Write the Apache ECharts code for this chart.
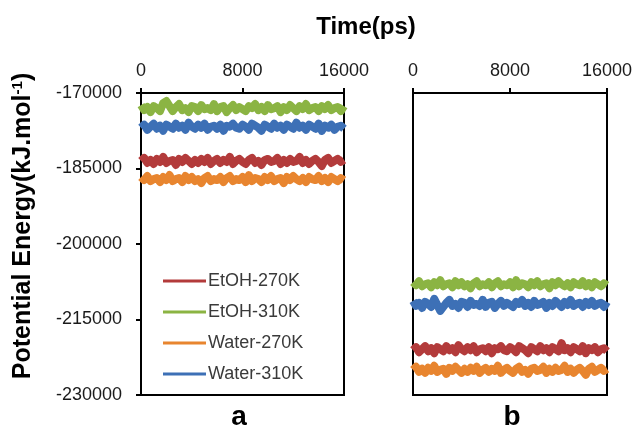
<!DOCTYPE html>
<html>
<head>
<meta charset="utf-8">
<script src="https://cdn.jsdelivr.net/npm/echarts@6/dist/echarts.min.js"></script>
<style>
  html, body { margin: 0; padding: 0; background: #fff; }
  #chart { width: 636px; height: 432px; }
</style>
</head>
<body>
<div id="chart"></div>
<script>
// Sampling grid of the trajectories (ps)
const timePs = Array.from({ length: 65 }, (_, i) => i * 250);

const seriesNames = ['EtOH-270K', 'EtOH-310K', 'Water-270K', 'Water-310K'];
const seriesColors = ['#B33B3B', '#8BB443', '#E8852F', '#3D70B6'];

const xTicks = [0, 8000, 16000];
const yTicks = [-230000, -215000, -200000, -185000, -170000];

// Panel a: potential energy (kJ/mol)
const etoh270A = [
  -183500,-182900,-183900,-183300,-184100,-183100,-183700,-182700,-183900,-183500,
  -183300,-184300,-183100,-183700,-182900,-183500,-184100,-183300,-183900,-183100,
  -183700,-182900,-184100,-183500,-183100,-183900,-183300,-183700,-182700,-184100,
  -183500,-183100,-183700,-184100,-183300,-182900,-183900,-183500,-184300,-183300,
  -183100,-183700,-183500,-182900,-184100,-183300,-183900,-183100,-183700,-183500,
  -182700,-183900,-183300,-184100,-183500,-183100,-183700,-184500,-183300,-182900,
  -183900,-183500,-183100,-183700,-183300
];
const etoh310A = [
  -172400,-173400,-172800,-173800,-172600,-173000,-173600,-172000,-171600,-172600,
  -173600,-172800,-172200,-173400,-173000,-173800,-172600,-172800,-173600,-172400,
  -173200,-173000,-173400,-172200,-173600,-172800,-172600,-173800,-173000,-172400,
  -173400,-172800,-173200,-173600,-172600,-173000,-172200,-173400,-172800,-173600,
  -172400,-173200,-173000,-172600,-173800,-172800,-173400,-172400,-173000,-173600,
  -172600,-173200,-172200,-173400,-173000,-172800,-173600,-172600,-173200,-172400,
  -173400,-173000,-172800,-173600,-172600
];
const water270A = [
  -186700,-187300,-186500,-187500,-187100,-186900,-187700,-186700,-187300,-186300,
  -187500,-187100,-186900,-187700,-186500,-187300,-186700,-187500,-187100,-187900,
  -186900,-186500,-187500,-187100,-187300,-186700,-187700,-186900,-186500,-187500,
  -187100,-187300,-186700,-187700,-186300,-187500,-186900,-187100,-187700,-186700,
  -187300,-186500,-187500,-187100,-186900,-187900,-186700,-187300,-186500,-187100,
  -187500,-186900,-187700,-186700,-187100,-187300,-186500,-187500,-186900,-187700,
  -186700,-187100,-187500,-186900,-187300
];
const water310A = [
  -176900,-176300,-177300,-176700,-176100,-177100,-176500,-177500,-176300,-176700,
  -177100,-176100,-176900,-176500,-177300,-175900,-176700,-177100,-176300,-176900,
  -176100,-177300,-176700,-176500,-177100,-176300,-177500,-176500,-176700,-176100,
  -176900,-177100,-176300,-176700,-177300,-176100,-176500,-176900,-177500,-176300,
  -176700,-177100,-176100,-176900,-176500,-177300,-176300,-176700,-177100,-175900,
  -176900,-176500,-177300,-176300,-176700,-177100,-176100,-177500,-176500,-176900,
  -176300,-177300,-176700,-176500,-177100
];

// Panel b: potential energy (kJ/mol)
const etoh270B = [
  -221100,-220500,-221500,-220900,-220300,-221300,-220700,-221700,-220500,-220900,
  -221300,-220300,-221100,-220700,-221500,-220100,-220900,-221300,-220500,-221100,
  -220300,-221500,-220900,-220700,-221300,-220500,-221700,-220700,-220900,-220300,
  -221100,-221300,-220500,-220900,-221500,-220300,-220700,-221100,-221700,-220500,
  -220900,-221300,-220300,-221100,-220700,-221500,-220500,-220900,-221300,-219700,
  -221100,-220700,-221500,-220500,-220900,-221300,-220300,-221700,-220700,-221100,
  -220500,-221500,-220900,-220700,-221300
];
const etoh310B = [
  -207600,-208200,-207400,-208400,-208000,-207800,-208600,-207600,-208200,-207200,
  -208400,-208000,-207800,-208600,-207400,-208200,-207600,-208400,-208000,-208800,
  -207800,-207400,-208400,-208000,-208200,-207600,-208600,-207800,-207400,-208400,
  -208000,-208200,-207600,-208600,-207200,-208400,-207800,-208000,-208600,-207600,
  -208200,-207400,-208400,-208000,-207800,-208800,-207600,-208200,-207400,-208000,
  -208400,-207800,-208600,-207600,-208000,-208200,-207400,-208400,-207800,-208600,
  -207600,-208000,-208400,-207800,-208200
];
const water270B = [
  -225000,-224400,-225400,-224800,-225600,-224600,-225200,-224200,-225400,-225000,
  -224800,-225800,-224600,-225200,-224400,-225000,-225600,-224800,-225400,-224600,
  -225200,-224400,-225600,-225000,-224600,-225400,-224800,-225200,-224200,-225600,
  -225000,-224600,-225200,-225600,-224800,-224400,-225400,-225000,-225800,-224800,
  -224600,-225200,-225000,-224400,-225600,-224800,-225400,-224600,-225200,-225000,
  -224200,-225400,-224800,-225600,-225000,-224600,-225200,-226000,-224800,-224400,
  -225400,-225000,-224600,-225200,-224800
];
const water310B = [
  -211300,-212300,-211700,-212700,-211500,-211900,-212500,-210900,-212100,-213300,
  -212500,-211700,-211100,-212300,-211900,-212700,-211500,-211700,-212500,-211300,
  -212100,-211900,-212300,-211100,-212500,-211700,-211500,-212700,-211900,-211300,
  -212300,-211700,-212100,-212500,-211500,-211900,-211100,-212300,-211700,-212500,
  -211300,-212100,-211900,-211500,-212700,-211700,-212300,-211300,-211900,-212500,
  -211500,-212100,-211100,-212300,-211900,-211700,-212500,-211500,-212100,-211300,
  -212300,-211900,-211700,-212500,-211500
];

const panelA = [etoh270A, etoh310A, water270A, water310A];
const panelB = [etoh270B, etoh310B, water270B, water310B];

const FONT = "'Liberation Sans', Arial, sans-serif";
const pair = (vals) => timePs.map((t, i) => [t, vals[i]]);
const plain = (v) => String(v);

function makeSeries(panel, idx) {
  return panel.map((vals, k) => ({
    name: seriesNames[k],
    type: 'line',
    xAxisIndex: idx,
    yAxisIndex: idx,
    data: pair(vals),
    showSymbol: false,
    symbol: 'none',
    color: seriesColors[k],
    lineStyle: { width: 8, color: seriesColors[k], join: 'round', cap: 'butt' },
    z: 2
  }));
}

function xAxisFor(idx) {
  return {
    gridIndex: idx,
    type: 'value',
    position: 'top',
    min: xTicks[0],
    max: xTicks[xTicks.length - 1],
    interval: xTicks[1] - xTicks[0],
    axisLine: { show: true, lineStyle: { color: '#000', width: 2 } },
    axisTick: { show: true, inside: false, length: 5, lineStyle: { color: '#000', width: 2 } },
    axisLabel: { fontFamily: FONT, fontSize: 18, color: '#1a1a1a', margin: 13, formatter: plain },
    splitLine: { show: false }
  };
}

function yAxisFor(idx, showLabels) {
  return {
    gridIndex: idx,
    type: 'value',
    min: yTicks[0],
    max: yTicks[yTicks.length - 1],
    interval: yTicks[1] - yTicks[0],
    axisLine: { show: true, lineStyle: { color: '#000', width: 2 } },
    axisTick: { show: showLabels, inside: false, length: 5, lineStyle: { color: '#000', width: 2 } },
    axisLabel: { show: showLabels, fontFamily: FONT, fontSize: 18, color: '#1a1a1a', margin: 19, formatter: plain },
    splitLine: { show: false }
  };
}

const chart = echarts.init(document.getElementById('chart'), null, { renderer: 'canvas' });

chart.setOption({
  animation: false,
  backgroundColor: '#fff',
  grid: [
    { left: 141, top: 93, width: 203, height: 302, show: true, borderColor: '#000', borderWidth: 2, backgroundColor: 'transparent' },
    { left: 413, top: 93, width: 194, height: 302, show: true, borderColor: '#000', borderWidth: 2, backgroundColor: 'transparent' }
  ],
  xAxis: [xAxisFor(0), xAxisFor(1)],
  yAxis: [yAxisFor(0, true), yAxisFor(1, false)],
  legend: {
    data: seriesNames,
    orient: 'vertical',
    left: 163,
    top: 272,
    padding: 0,
    icon: 'rect',
    itemWidth: 43,
    itemHeight: 3,
    itemGap: 13,
    textStyle: { fontFamily: FONT, fontSize: 18, color: '#3a3a3a', padding: [0, 0, 0, -3] },
    selectedMode: false
  },
  series: [...makeSeries(panelA, 0), ...makeSeries(panelB, 1)],
  graphic: [
    {
      type: 'text', x: 366, y: 27,
      style: { text: 'Time(ps)', font: `bold 24px ${FONT}`, fill: '#000', align: 'center', verticalAlign: 'middle' }
    },
    {
      type: 'text', x: 23, y: 226, rotation: Math.PI / 2,
      style: {
        text: '{m|Potential Energy(kJ.mol}{s|-1}{m|)}',
        align: 'center', verticalAlign: 'middle',
        rich: {
          m: { font: `bold 25px ${FONT}`, fill: '#000' },
          s: { font: `bold 15px ${FONT}`, fill: '#000', verticalAlign: 'top' }
        }
      }
    },
    {
      type: 'text', x: 239, y: 417,
      style: { text: 'a', font: `bold 28px ${FONT}`, fill: '#000', align: 'center', verticalAlign: 'middle' }
    },
    {
      type: 'text', x: 512, y: 417,
      style: { text: 'b', font: `bold 28px ${FONT}`, fill: '#000', align: 'center', verticalAlign: 'middle' }
    }
  ]
});
</script>
</body>
</html>
